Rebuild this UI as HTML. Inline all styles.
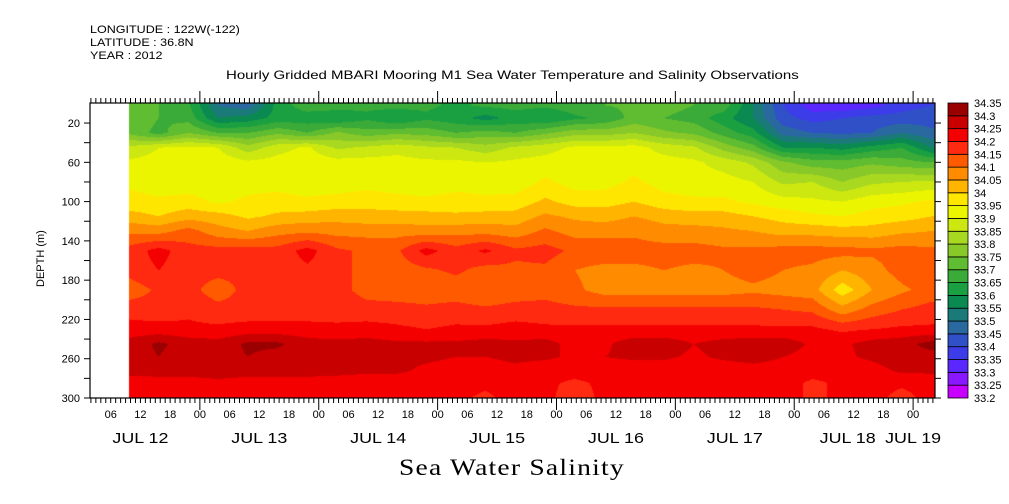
<!DOCTYPE html>
<html><head><meta charset="utf-8"><style>
body{margin:0;background:#fff;width:1009px;height:504px;overflow:hidden;position:relative;font-family:"Liberation Sans",sans-serif;color:#000}
.t{position:absolute;white-space:nowrap;font-size:11px;line-height:11px;transform-origin:0 0}
canvas{position:absolute;left:0;top:0}
svg{position:absolute;left:0;top:0}
</style></head><body>
<div class="t" style="left:90px;top:25px;transform:scaleX(1.14)">LONGITUDE : 122W(-122)</div>
<div class="t" style="left:90px;top:38px;transform:scaleX(1.14)">LATITUDE : 36.8N</div>
<div class="t" style="left:90px;top:51px;transform:scaleX(1.14)">YEAR : 2012</div>
<div class="t" style="left:226px;top:70px;font-size:12px;transform:scaleX(1.25)">Hourly Gridded MBARI Mooring M1 Sea Water Temperature and Salinity Observations</div>
<div class="t" style="left:399px;top:456px;font-size:23px;line-height:23px;font-family:'Liberation Serif',serif;letter-spacing:1px;transform:scaleX(1.2)">Sea Water Salinity</div>
<div class="t" style="left:6px;top:245px;transform:rotate(-90deg);transform-origin:36px 6px">DEPTH (m)</div>
<canvas id="cv" width="1009" height="504"></canvas>
<svg id="sv" width="1009" height="504"></svg>
<script>
const depths=[2,15,30,45,60,80,100,115,130,150,170,190,210,230,245,258,272,285,300];
const startHour=9.7; // Jul 12 ~10h, 6-hourly columns
const stepHours=6;
const salinity=[
[33.72,33.70,33.66,33.50,33.47,33.62,33.68,33.68,33.66,33.67,33.66,33.64,33.66,33.67,33.66,33.68,33.70,33.71,33.72,33.70,33.68,33.55,33.40,33.32,33.31,33.33,33.38,33.40],
[33.75,33.70,33.68,33.55,33.57,33.62,33.62,33.60,33.64,33.60,33.64,33.62,33.58,33.62,33.60,33.64,33.66,33.72,33.70,33.68,33.62,33.55,33.42,33.38,33.40,33.42,33.42,33.43],
[33.74,33.68,33.75,33.70,33.70,33.74,33.70,33.76,33.72,33.74,33.73,33.70,33.72,33.70,33.74,33.78,33.78,33.80,33.76,33.74,33.68,33.62,33.48,33.45,33.44,33.45,33.50,33.46],
[33.86,33.90,33.91,33.90,33.82,33.88,33.91,33.84,33.86,33.88,33.86,33.85,33.82,33.86,33.88,33.91,33.91,33.92,33.88,33.86,33.78,33.72,33.60,33.60,33.58,33.62,33.65,33.55],
[33.91,33.92,33.93,33.93,33.91,33.92,33.93,33.92,33.92,33.92,33.91,33.91,33.90,33.91,33.92,33.93,33.93,33.93,33.92,33.91,33.88,33.84,33.76,33.72,33.72,33.74,33.72,33.70],
[33.94,33.92,33.92,33.92,33.93,33.93,33.92,33.92,33.93,33.92,33.92,33.93,33.93,33.92,33.96,33.93,33.93,33.96,33.93,33.92,33.92,33.90,33.84,33.85,33.80,33.84,33.85,33.86],
[33.97,33.96,33.97,33.94,33.96,33.97,33.96,33.97,33.98,33.97,33.96,33.97,33.96,33.97,34.01,33.98,33.98,34.00,33.97,33.96,33.96,33.94,33.92,33.91,33.90,33.93,33.94,33.96],
[34.02,34.00,34.03,34.02,33.99,34.01,34.02,34.03,34.02,34.02,34.02,34.01,34.02,34.02,34.06,34.04,34.03,34.05,34.03,34.02,34.02,34.00,33.98,33.96,33.95,33.97,33.98,34.00],
[34.09,34.08,34.12,34.07,34.05,34.08,34.09,34.08,34.08,34.08,34.07,34.08,34.08,34.07,34.11,34.08,34.08,34.09,34.07,34.07,34.06,34.05,34.03,34.03,34.02,34.02,34.04,34.05],
[34.17,34.22,34.17,34.17,34.17,34.17,34.22,34.16,34.14,34.14,34.22,34.17,34.21,34.16,34.17,34.14,34.14,34.12,34.12,34.12,34.11,34.11,34.12,34.12,34.12,34.11,34.12,34.11],
[34.17,34.20,34.17,34.17,34.16,34.17,34.19,34.17,34.13,34.12,34.14,34.16,34.13,34.14,34.14,34.10,34.08,34.09,34.10,34.09,34.10,34.12,34.10,34.09,34.05,34.08,34.12,34.14],
[34.12,34.16,34.17,34.12,34.17,34.17,34.17,34.17,34.13,34.12,34.12,34.12,34.10,34.12,34.13,34.11,34.08,34.08,34.08,34.08,34.08,34.09,34.08,34.07,33.97,34.05,34.09,34.12],
[34.18,34.17,34.19,34.17,34.17,34.17,34.17,34.18,34.17,34.17,34.16,34.17,34.16,34.17,34.17,34.16,34.16,34.16,34.16,34.16,34.16,34.16,34.15,34.14,34.07,34.12,34.15,34.17],
[34.22,34.22,34.21,34.21,34.22,34.22,34.22,34.21,34.22,34.21,34.20,34.21,34.21,34.22,34.21,34.21,34.21,34.21,34.21,34.21,34.21,34.21,34.21,34.21,34.19,34.20,34.21,34.21],
[34.27,34.31,34.28,34.27,34.31,34.31,34.27,34.27,34.27,34.26,34.26,34.26,34.27,34.26,34.27,34.23,34.24,34.28,34.28,34.25,34.27,34.28,34.28,34.24,34.24,34.27,34.28,34.32],
[34.27,34.30,34.27,34.28,34.30,34.28,34.27,34.27,34.27,34.26,34.26,34.25,34.25,34.26,34.26,34.24,34.25,34.26,34.26,34.24,34.26,34.27,34.25,34.23,34.24,34.26,34.28,34.28],
[34.27,34.27,34.27,34.27,34.27,34.27,34.27,34.27,34.26,34.26,34.24,34.23,34.23,34.24,34.22,34.22,34.22,34.22,34.22,34.22,34.22,34.23,34.23,34.22,34.22,34.23,34.26,34.26],
[34.22,34.23,34.23,34.24,34.23,34.23,34.23,34.22,34.22,34.22,34.22,34.22,34.21,34.22,34.21,34.19,34.21,34.21,34.22,34.22,34.21,34.22,34.22,34.19,34.21,34.22,34.21,34.22],
[34.22,34.22,34.22,34.22,34.22,34.22,34.22,34.21,34.22,34.22,34.22,34.21,34.19,34.22,34.21,34.18,34.21,34.22,34.21,34.22,34.21,34.22,34.22,34.19,34.21,34.22,34.18,34.22]
];
const levelMin=33.2, levelStep=0.05;
const levelLabels=["33.2","33.25","33.3","33.35","33.4","33.45","33.5","33.55","33.6","33.65","33.7","33.75","33.8","33.85","33.9","33.95","34","34.05","34.1","34.15","34.2","34.25","34.3","34.35"];
const levelColors=["#c800ff","#8a18ff","#5a28ff","#3c3ce8","#3050c8","#2a68a0","#1a7a78","#0a8a50","#1aa040","#3aaa38","#60bc30","#88c828","#a8d820","#cce810","#ecf500","#ffe600","#ffb400","#ff8c00","#ff5a00","#ff2a10","#f50000","#c80000","#9a0000"];
const xDays=["JUL 12","JUL 13","JUL 14","JUL 15","JUL 16","JUL 17","JUL 18","JUL 19"];

const X0=90,X1=935,Y0=103,Y1=398;
const xOfHour=h=>81+h*4.953;
const yOfDepth=d=>103.4+d*0.982;

function hex(c){return [parseInt(c.slice(1,3),16),parseInt(c.slice(3,5),16),parseInt(c.slice(5,7),16)];}
const rgb=levelColors.map(hex);
const cv=document.getElementById('cv'),ctx=cv.getContext('2d');
const img=ctx.createImageData(1009,504);
const nc=salinity[0].length;
const xa=xOfHour(startHour), xb=xOfHour(startHour+(nc-1)*stepHours);
for(let py=Y0;py<Y1;py++){
  const d=(py+0.5-103.4)/0.982;
  let r=0;while(r<depths.length-2&&depths[r+1]<d)r++;
  let fy=(d-depths[r])/(depths[r+1]-depths[r]);fy=Math.max(0,Math.min(1,fy));
  for(let px=Math.floor(xa);px<X1;px++){
    let ci=(px+0.5-xa)/(xb-xa)*(nc-1);ci=Math.max(0,Math.min(nc-1,ci));
    let c=Math.min(nc-2,Math.floor(ci));const fx=ci-c;
    const v=(salinity[r][c]*(1-fx)+salinity[r][c+1]*fx)*(1-fy)+(salinity[r+1][c]*(1-fx)+salinity[r+1][c+1]*fx)*fy;
    let k=Math.floor((v-levelMin)/levelStep);k=Math.max(0,Math.min(levelColors.length-1,k));
    const o=(py*1009+px)*4;img.data[o]=rgb[k][0];img.data[o+1]=rgb[k][1];img.data[o+2]=rgb[k][2];img.data[o+3]=255;
  }
}
ctx.putImageData(img,0,0);

const sv=document.getElementById('sv');const NS='http://www.w3.org/2000/svg';
function el(t,a,txt){const e=document.createElementNS(NS,t);for(const k in a)e.setAttribute(k,a[k]);if(txt!=null)e.textContent=txt;sv.appendChild(e);return e;}
let f=el('rect',{x:X0,y:Y0,width:X1-X0,height:Y1-Y0,fill:'none',stroke:'#000','stroke-width':1.2});


for(let h=2;h<=172;h++){const x=xOfHour(h);if(x<X0||x>X1)continue;const big=h%24===0;
  const t1=el('line',{x1:x,x2:x,y1:Y0,y2:Y0-(big?12:5),stroke:'#000','stroke-width':1});
  
  
  const t2=el('line',{x1:x,x2:x,y1:Y1,y2:Y1+(big?12:5),stroke:'#000','stroke-width':1});
  
  
  if(h%6===0){const lb=el('text',{x:x,y:Y1+20,'font-size':11,'text-anchor':'middle','font-family':'Liberation Sans'},String(h%24).padStart(2,'0'));
    
    }
}
xDays.forEach((s,i)=>{let x=xOfHour(12+24*i);if(i===6)x-=6;if(i===7)x=xOfHour(168);
  const lb=el('text',{x:x-28,y:Y1+45,'font-size':15,'font-family':'Liberation Sans',textLength:56,lengthAdjust:'spacingAndGlyphs'},s);
  
  });
for(let d=20;d<=300;d+=20){const y=yOfDepth(d);
  const a=el('line',{x1:X0,x2:X0-6,y1:y,y2:y,stroke:'#000'});
  
  
  const b=el('line',{x1:X1,x2:X1+6,y1:y,y2:y,stroke:'#000'});
  
  
  if((d-20)%40===0||d===300){const lb=el('text',{x:X0-10,y:y+4,'font-size':11,'text-anchor':'end','font-family':'Liberation Sans'},String(d));
    
    }
}
const CB0=103,CB1=398,cbx=948,cbw=20,bh=(CB1-CB0)/levelColors.length;
levelColors.forEach((c,k)=>{const r=el('rect',{x:cbx,y:CB1-(k+1)*bh,width:cbw,height:bh,fill:c,stroke:'#000','stroke-width':0.8});
  
  });
levelLabels.forEach((s,k)=>{const y=CB1-k*bh;
  const lb=el('text',{x:cbx+cbw+6,y:y+4,'font-size':11,'font-family':'Liberation Sans'},s);
  
  });
</script>
</body></html>
